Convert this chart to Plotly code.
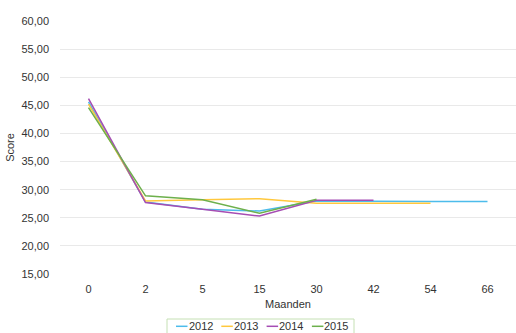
import plotly.graph_objects as go

# Months since start (categorical x axis)
maanden = ["0", "2", "5", "15", "30", "42", "54", "66"]

# Score per cohort year; None where no measurement exists
score_2012 = [45.6, 27.8, 26.5, 26.2, 28.0, 27.9, 27.9, 27.9]
score_2013 = [45.2, 28.0, 28.2, 28.4, 27.6, 27.6, 27.6, None]
score_2014 = [46.2, 27.7, 26.5, 25.3, 28.1, 28.1, None, None]
score_2015 = [44.6, 28.9, 28.2, 25.8, 28.3, None, None, None]

series_names = ["2012", "2013", "2014", "2015"]
series_values = [score_2012, score_2013, score_2014, score_2015]
series_colors = ["#4DBCEB", "#FFC83D", "#A64DB3", "#6DB04C"]

y_ticks = [15, 20, 25, 30, 35, 40, 45, 50, 55, 60]
y_ticklabels = [f"{v:.2f}".replace(".", ",") for v in y_ticks]

W, H = 516, 333
L, R, T, B = 60, 0, 21, 59

fig = go.Figure()
for name, vals, col in zip(series_names, series_values, series_colors):
    fig.add_trace(go.Scatter(
        x=maanden, y=vals, name=name, mode="lines",
        line=dict(color=col, width=1.5), connectgaps=False,
        showlegend=False,
    ))

font = "Liberation Sans, Arial, sans-serif"
text_color = "#333333"

fig.update_layout(
    width=W, height=H,
    margin=dict(l=L, r=R, t=T, b=B),
    paper_bgcolor="white", plot_bgcolor="white",
    font=dict(family=font, size=11, color=text_color),
    xaxis=dict(
        type="category", categoryorder="array", categoryarray=maanden,
        range=[-0.5, len(maanden) - 0.5],
        showgrid=False, showline=False, zeroline=False, ticks="",
        ticklabelstandoff=7,
        title=dict(text="Maanden", font=dict(size=11, color=text_color), standoff=6),
    ),
    yaxis=dict(
        range=[15, 60], tickvals=y_ticks, ticktext=y_ticklabels,
        showgrid=True, gridcolor="#E9E9E9", gridwidth=1,
        showline=False, zeroline=False, ticks="",
        ticklabelstandoff=10,
        title=dict(text="Score", font=dict(size=11, color=text_color), standoff=4),
    ),
)

# Compact legend below the chart: border box, short line samples and labels
pw = W - L - R
ph = H - T - B


def px_to_paper_x(px):
    return (px - L) / pw


def py_to_paper_y(py):
    return (H - B - py) / ph


fig.add_shape(
    type="rect", xref="paper", yref="paper",
    x0=px_to_paper_x(167), x1=px_to_paper_x(354),
    y0=py_to_paper_y(334), y1=py_to_paper_y(319),
    line=dict(color="#C5E0B4", width=1), fillcolor="white", layer="above",
)

item_x0 = 176
item_step = 45.3
legend_y = 326.3
for i, (name, col) in enumerate(zip(series_names, series_colors)):
    x0 = item_x0 + i * item_step
    fig.add_shape(
        type="line", xref="paper", yref="paper",
        x0=px_to_paper_x(x0), x1=px_to_paper_x(x0 + 11.5),
        y0=py_to_paper_y(legend_y), y1=py_to_paper_y(legend_y),
        line=dict(color=col, width=1.5), layer="above",
    )
    fig.add_annotation(
        xref="paper", yref="paper",
        x=px_to_paper_x(x0 + 11.5), y=py_to_paper_y(legend_y),
        xanchor="left", yanchor="middle", text=name, showarrow=False,
        font=dict(size=11, color=text_color), borderpad=0,
    )

fig.write_html("out.html")
